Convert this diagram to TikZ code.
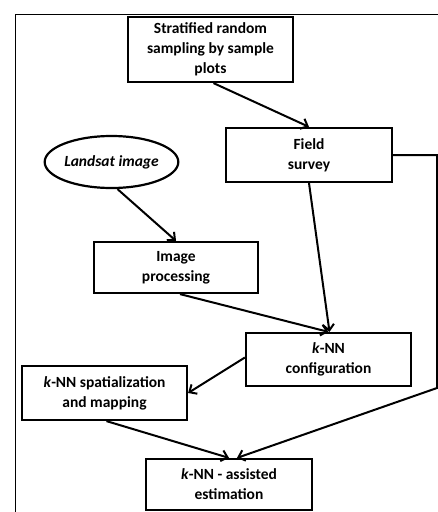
\documentclass[tikz,border=0pt]{standalone}
\usepackage{fontspec}
\setmainfont{Carlito}
\usetikzlibrary{arrows.meta,shapes.geometric}

\begin{document}
\begin{tikzpicture}[x=1pt,y=-1pt,line width=2.2pt,
	flow/.style={-{Straight Barb[length=6pt,width=11pt]}, line width=2pt},
	step box/.style={rectangle,fill=white,draw,align=center,inner sep=2pt,
		font=\fontsize{15.5}{20}\selectfont\bfseries},
	data node/.style={ellipse,fill=white,draw,inner sep=0pt,
		font=\fontsize{15.5}{20}\selectfont\bfseries\itshape}]

\useasboundingbox (0,0) rectangle (438,512);
\draw[line width=1.8pt] (15.5,520) -- (15.5,14.5) -- (445,14.5);

\node[step box,minimum width=165pt,minimum height=65pt] (strat) at (210.5,49.5)
	{Stratified random\\sampling by sample\\plots};
\node[step box,minimum width=166pt,minimum height=54pt] (field) at (309,155)
	{Field\\survey};
\node[data node,minimum width=117pt,minimum height=52pt] (landsat) at (111.5,162)
	{Landsat image};
\node[step box,minimum width=164pt,minimum height=51pt] (improc) at (176,267.5)
	{Image\\processing};
\node[step box,minimum width=165pt,minimum height=53pt] (config) at (328.5,359.5)
	{\textit{k}-NN\\configuration};
\node[step box,minimum width=165pt,minimum height=54pt] (spatial) at (104.5,393)
	{\textit{k}-NN spatialization\\and mapping};
\node[step box,minimum width=166pt,minimum height=51pt] (assist) at (229,484.5)
	{\textit{k}-NN - assisted\\estimation};

\coordinate (c1) at (437,155);
\coordinate (c2) at (437,388);

\draw[flow] ([xshift=3pt]strat.south) -- (field.north);
\draw[flow] ([xshift=6pt]landsat.south) -- (improc.north);
\draw[flow] ([xshift=4pt]improc.south) -- (config.north);
\draw[flow] (field.south) -- ([xshift=1pt]config.north);
\draw[flow] ([yshift=2pt]config.west) -- (spatial.east);
\draw[flow] ([xshift=2pt]spatial.south) -- (assist.north);
\draw[flow] (field.east) -- (c1) -- (c2) -- ([xshift=8pt]assist.north);
\end{tikzpicture}
\end{document}
